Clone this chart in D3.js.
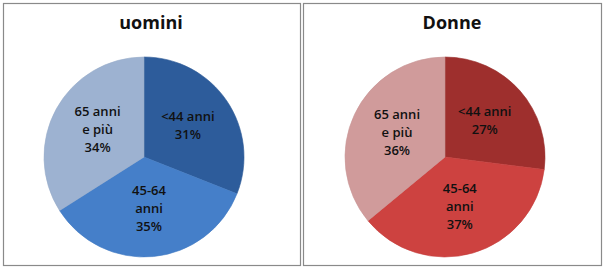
<!DOCTYPE html>
<html>
<head>
<meta charset="utf-8">
<script src="https://cdn.jsdelivr.net/npm/d3@7"></script>
<style>
  body { margin: 0; background: #fff; }
  svg { display: block; }
  text { font-family: "Open Sans", "Liberation Sans", sans-serif; }
</style>
</head>
<body>
<svg id="vis" width="605" height="270"></svg>
<script>
// data
const categories = ["<44 anni", "45-64 anni", "65 anni e più"];
const labelLines = [["<44 anni"], ["45-64", "anni"], ["65 anni", "e più"]];
const titles = ["uomini", "Donne"];
const uominiValues = [31, 35, 34];
const donneValues = [27, 37, 36];

const palettes = [
  ["#3063a6", "#4a88d8", "#a9bfe0"],
  ["#aa3330", "#dc4745", "#dfa6a6"]
];

const svg = d3.select("#vis");
const defs = svg.append("defs");

const panels = [
  {x: 3, w: 298, title: titles[0], values: uominiValues, colors: palettes[0], cx: 144},
  {x: 303, w: 299, title: titles[1], values: donneValues, colors: palettes[1], cx: 445}
];

const pie = d3.pie().sort(null).value(d => d);
const radius = 100;
const arc = d3.arc().innerRadius(0).outerRadius(radius);
const labelArc = d3.arc().innerRadius(radius * 0.53).outerRadius(radius * 0.53);

panels.forEach(function(p, pi) {
  const g = svg.append("g");
  g.append("rect")
    .attr("x", p.x + 0.5).attr("y", 3.5)
    .attr("width", p.w - 1).attr("height", 262)
    .attr("fill", "#fff").attr("stroke", "#8a8a8a").attr("stroke-width", 1.2);

  g.append("text")
    .attr("x", p.cx + 7).attr("y", 29)
    .attr("text-anchor", "middle")
    .style("font-size", "18px").style("font-weight", "bold")
    .attr("fill", "#111")
    .text(p.title);

  // gradients per slice for the shaded look
  p.colors.forEach(function(c, i) {
    const grad = defs.append("radialGradient")
      .attr("id", "g" + pi + "_" + i)
      .attr("gradientUnits", "userSpaceOnUse")
      .attr("cx", p.cx).attr("cy", 157).attr("r", radius);
    grad.append("stop").attr("offset", "0%").attr("stop-color", d3.color(c).brighter(0.25));
    grad.append("stop").attr("offset", "88%").attr("stop-color", c);
    grad.append("stop").attr("offset", "100%").attr("stop-color", d3.color(c).darker(0.2));
  });

  const pg = g.append("g").attr("transform", `translate(${p.cx},157)`);
  const arcs = pie(p.values);

  pg.selectAll("path")
    .data(arcs)
    .enter().append("path")
    .attr("d", arc)
    .attr("fill", (d, i) => `url(#g${pi}_${i})`)
    .attr("stroke", (d, i) => d3.color(p.colors[i]).darker(0.3))
    .attr("stroke-width", 0.6);

  const lbl = pg.selectAll("text.lbl")
    .data(arcs)
    .enter().append("text")
    .attr("class", "lbl")
    .attr("text-anchor", "middle")
    .attr("fill", "#111")
    .style("font-size", "13px")
    .style("font-weight", "600")
    .attr("transform", d => `translate(${labelArc.centroid(d)})`);

  lbl.each(function(d, i) {
    const lines = labelLines[i].concat([p.values[i] + "%"]);
    const t = d3.select(this);
    const lh = 18;
    const y0 = -(lines.length - 1) * lh / 2 + 3;
    lines.forEach(function(s, k) {
      t.append("tspan").attr("x", 0).attr("y", y0 + k * lh).text(s);
    });
  });
});
</script>
</body>
</html>
